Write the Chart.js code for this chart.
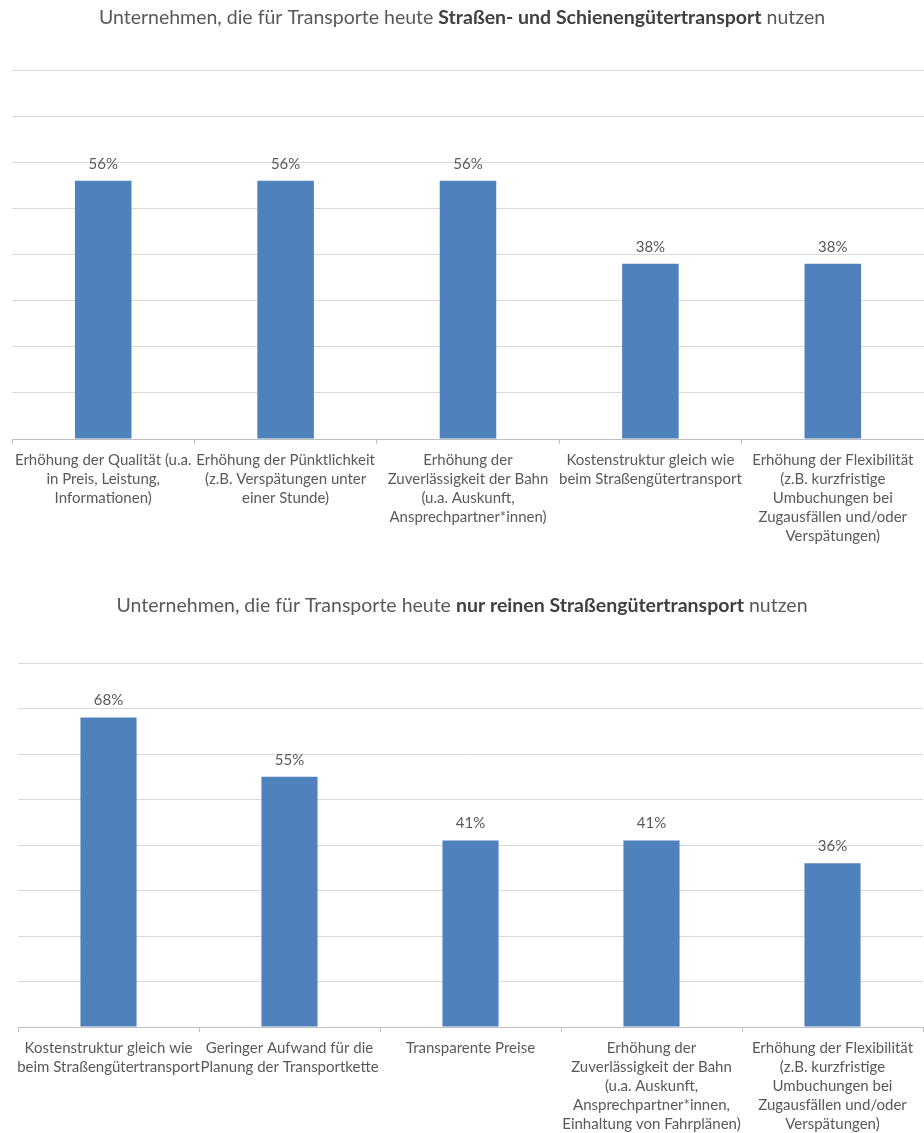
<!DOCTYPE html>
<html>
<head>
<meta charset="utf-8">
<script src="https://cdn.jsdelivr.net/npm/chart.js@4.4.1/dist/chart.umd.min.js"></script>
<style>
  body { margin: 0; background: #fff; }
  #wrap { position: relative; width: 924px; height: 1133px; }
  #c1 { position: absolute; left: 0; top: 0; }
  #c2 { position: absolute; left: 0; top: 570px; }
</style>
</head>
<body>
<div id="wrap">
  <canvas id="c1" width="924" height="570"></canvas>
  <canvas id="c2" width="924" height="563"></canvas>
</div>
<script>
// --- Daten ---
var titel1 = [
  ["Unternehmen, die für Transporte heute ", false],
  ["Straßen- und Schienengütertransport", true],
  [" nutzen", false]
];
var kategorien1 = [
  ["Erhöhung der Qualität (u.a.", "in Preis, Leistung,", "Informationen)"],
  ["Erhöhung der Pünktlichkeit", "(z.B. Verspätungen unter", "einer Stunde)"],
  ["Erhöhung der", "Zuverlässigkeit der Bahn", "(u.a. Auskunft,", "Ansprechpartner*innen)"],
  ["Kostenstruktur gleich wie", "beim Straßengütertransport"],
  ["Erhöhung der Flexibilität", "(z.B. kurzfristige", "Umbuchungen bei", "Zugausfällen und/oder", "Verspätungen)"]
];
var werte1 = [56, 56, 56, 38, 38];

var titel2 = [
  ["Unternehmen, die für Transporte heute ", false],
  ["nur reinen Straßengütertransport", true],
  [" nutzen", false]
];
var kategorien2 = [
  ["Kostenstruktur gleich wie", "beim Straßengütertransport"],
  ["Geringer Aufwand für die", "Planung der Transportkette"],
  ["Transparente Preise"],
  ["Erhöhung der", "Zuverlässigkeit der Bahn", "(u.a. Auskunft,", "Ansprechpartner*innen,", "Einhaltung von Fahrplänen)"],
  ["Erhöhung der Flexibilität", "(z.B. kurzfristige", "Umbuchungen bei", "Zugausfällen und/oder", "Verspätungen)"]
];
var werte2 = [68, 55, 41, 41, 36];

var FONT = "Lato, 'Open Sans', sans-serif";
var blau = '#4f81bd';

// Titel mit fett/normal gemischt
var titelPlugin = {
  id: 'titel',
  afterDraw: function(chart) {
    var segs = chart.options.plugins.titel.segs;
    var y = chart.options.plugins.titel.y;
    var ctx = chart.ctx;
    ctx.save();
    ctx.textBaseline = 'middle';
    ctx.textAlign = 'left';
    var total = 0;
    segs.forEach(function(s) {
      ctx.font = (s[1] ? 'bold ' : '') + '19.5px ' + FONT;
      total += ctx.measureText(s[0]).width;
    });
    var x = chart.width / 2 - total / 2;
    segs.forEach(function(s) {
      ctx.font = (s[1] ? 'bold ' : '') + '19.5px ' + FONT;
      ctx.fillStyle = s[1] ? '#404040' : '#595959';
      ctx.fillText(s[0], x, y);
      x += ctx.measureText(s[0]).width;
    });
    ctx.restore();
  }
};

// Prozentwerte über den Balken
var wertPlugin = {
  id: 'werte',
  afterDatasetsDraw: function(chart) {
    var ctx = chart.ctx;
    var meta = chart.getDatasetMeta(0);
    ctx.save();
    ctx.font = '15px ' + FONT;
    ctx.fillStyle = '#595959';
    ctx.textAlign = 'center';
    ctx.textBaseline = 'middle';
    meta.data.forEach(function(bar, i) {
      ctx.fillText(chart.data.datasets[0].data[i] + '%', bar.x, bar.y - 17);
    });
    ctx.restore();
  }
};

function baueChart(id, labels, daten, segs, titelY, pad, achsenHoehe) {
  return new Chart(document.getElementById(id), {
    type: 'bar',
    data: {
      labels: labels,
      datasets: [{
        data: daten,
        backgroundColor: blau,
        barPercentage: 0.31,
        categoryPercentage: 1
      }]
    },
    options: {
      responsive: false,
      animation: false,
      layout: { padding: pad },
      plugins: {
        legend: { display: false },
        tooltip: { enabled: false },
        titel: { segs: segs, y: titelY }
      },
      scales: {
        x: {
          grid: {
            offset: true,
            drawOnChartArea: false,
            drawTicks: true,
            tickLength: 5,
            color: '#bfbfbf'
          },
          border: { display: true, color: '#bfbfbf' },
          ticks: {
            autoSkip: false,
            maxRotation: 0,
            minRotation: 0,
            padding: 7,
            color: '#595959',
            font: { family: FONT, size: 15, lineHeight: 19 / 15 }
          },
          afterFit: function(s) { s.height = achsenHoehe; }
        },
        y: {
          min: 0,
          max: 80,
          ticks: { display: false, stepSize: 10 },
          grid: { color: '#d9d9d9', drawTicks: false },
          border: { display: false },
          afterFit: function(s) { s.width = 0; }
        }
      }
    },
    plugins: [titelPlugin, wertPlugin]
  });
}

baueChart('c1', kategorien1, werte1, titel1, 18, { top: 70, left: 12, right: 0, bottom: 0 }, 131);
baueChart('c2', kategorien2, werte2, titel2, 36, { top: 93, left: 18, right: 1, bottom: 0 }, 106);
</script>
</body>
</html>
